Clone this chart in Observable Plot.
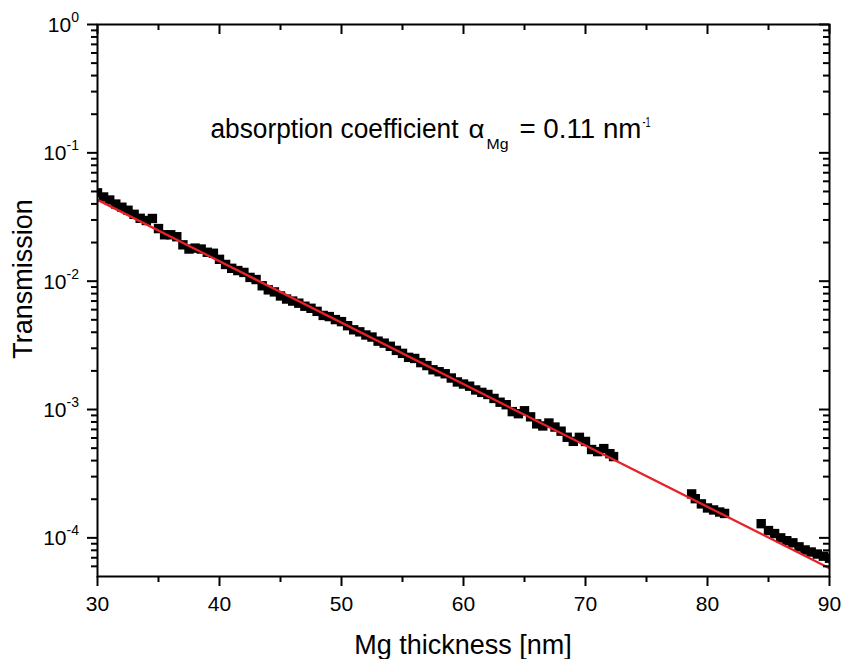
<!DOCTYPE html>
<html><head><meta charset="utf-8">
<script src="https://cdn.jsdelivr.net/npm/d3@7"></script>
<script src="https://cdn.jsdelivr.net/npm/@observablehq/plot@0.6"></script>
<style>body{margin:0;background:#fff} svg{display:block}</style>
</head><body><div id="chart"></div>
<script>
const thickness = [30,30.5,31,31.5,32,32.5,33,33.5,34,34.5,35,35.5,36,36.5,37,37.5,38,38.5,39,39.5,
  40,40.5,41,41.5,42,42.5,43,43.5,44,44.5,45,45.5,46,46.5,47,47.5,48,48.5,49,49.5,
  50,50.5,51,51.5,52,52.5,53,53.5,54,54.5,55,55.5,56,56.5,57,57.5,58,58.5,59,59.5,
  60,60.5,61,61.5,62,62.5,63,63.5,64,64.5,65,65.5,66,66.5,67,67.5,68,68.5,69,69.5,
  70,70.5,71,71.5,72,72.3,
  78.7,79,79.5,80,80.5,81,81.4,
  84.4,85,85.5,86,86.5,87,87.5,88,88.5,89,89.5,90];
const transmission = [0.0488,0.0453,0.0429,0.0399,0.0377,0.0357,0.0332,0.0309,0.0297,0.0308,
  0.0257,0.0230,0.0230,0.0222,0.0192,0.0178,0.0181,0.0178,0.0168,0.0165,
  0.0148,0.0135,0.0126,0.0121,0.0117,0.0107,0.0103,0.00921,0.00856,0.00825,
  0.00767,0.00726,0.00700,0.00674,0.00638,0.00615,0.00582,0.00541,0.00530,0.00502,
  0.00484,0.00450,0.00418,0.00403,0.00381,0.00367,0.00341,0.00329,0.00311,0.00289,
  0.00274,0.00255,0.00250,0.00232,0.00220,0.00204,0.00197,0.00190,0.00176,0.00164,
  0.00158,0.00152,0.00142,0.00136,0.00131,0.00122,0.00114,0.00109,0.000963,0.000928,
  0.000978,0.000877,0.000773,0.000745,0.000785,0.000730,0.000678,0.000608,0.000565,0.000607,
  0.000564,0.000488,0.000470,0.000496,0.000453,0.000430,
  0.000220,0.000202,0.000184,0.000171,0.000165,0.000159,0.000155,
  0.000129,0.000114,0.000108,0.000100,0.0000950,0.0000915,0.0000851,0.0000805,0.0000776,0.0000748,0.0000720,0.0000694];
const fitThickness = [30, 90];
const fitTransmission = [0.043, 5.8e-5];
const xMajorTicks = [30,40,50,60,70,80,90];
const xMinorTicks = [35,45,55,65,75,85];
const yMajorTicks = [1,0.1,0.01,0.001,0.0001];
const yMajorExponents = ["0","-1","-2","-3","-4"];
const yMinorTicks = [6e-5,7e-5,8e-5,9e-5,
  2e-4,3e-4,4e-4,5e-4,6e-4,7e-4,8e-4,9e-4,
  2e-3,3e-3,4e-3,5e-3,6e-3,7e-3,8e-3,9e-3,
  2e-2,3e-2,4e-2,5e-2,6e-2,7e-2,8e-2,9e-2,
  0.2,0.3,0.4,0.5,0.6,0.7,0.8,0.9];
const xTitle = "Mg thickness [nm]";
const yTitle = "Transmission";
const notePre = "absorption coefficient";
const noteSymbol = "α";
const noteSub = "Mg";
const notePost = "= 0.11 nm";
const noteSup = "-1";

const W = 843, H = 659, mL = 97, mR = 14, mT = 24, mB = 83;
const frameW = W - mL - mR, frameH = H - mT - mB;
const FONT = "'Liberation Sans', Arial, sans-serif";
const points = thickness.map((x, i) => ({x, y: transmission[i]}));
const fit = fitThickness.map((x, i) => ({x, y: fitTransmission[i]}));

const plot = Plot.plot({
  width: W, height: H,
  marginLeft: mL, marginRight: mR, marginTop: mT, marginBottom: mB,
  style: {fontFamily: FONT, background: "white", color: "black", overflow: "visible"},
  x: {domain: [30, 90], axis: null},
  y: {type: "log", domain: [5e-5, 1], axis: null},
  marks: [
    Plot.dot(points, {x: "x", y: "y", symbol: "square", r: 5.3, fill: "black", stroke: "none", clip: true}),
    Plot.line(fit, {x: "x", y: "y", stroke: "#e8202a", strokeWidth: 2.3, clip: true}),
    Plot.axisX({anchor: "bottom", ticks: xMajorTicks, tickSize: 10, tickPadding: 10, strokeWidth: 2, fontSize: 21, tickFormat: d => String(d), label: null}),
    Plot.axisX({anchor: "bottom", ticks: xMinorTicks, tickSize: 6, strokeWidth: 2, tickFormat: () => "", label: null}),
    Plot.axisY({anchor: "left", ticks: yMajorTicks, tickSize: 10, strokeWidth: 2, tickFormat: () => "", label: null}),
    Plot.axisY({anchor: "left", ticks: yMinorTicks, tickSize: 6, strokeWidth: 2, tickFormat: () => "", label: null}),
    Plot.ruleX(xMajorTicks, {x: d => d, insetBottom: frameH - 10, strokeWidth: 2}),
    Plot.ruleX(xMinorTicks, {x: d => d, insetBottom: frameH - 6, strokeWidth: 2}),
    Plot.ruleY(yMajorTicks, {y: d => d, insetLeft: frameW - 10, strokeWidth: 2}),
    Plot.ruleY(yMinorTicks, {y: d => d, insetLeft: frameW - 6, strokeWidth: 2}),
    Plot.frame({stroke: "black", strokeWidth: 2})
  ]
});

const svg = d3.select(plot);
const ys = plot.scale("y"), xs = plot.scale("x");
yMajorTicks.forEach((v, i) => {
  const t = svg.append("text")
    .attr("x", mL - 18).attr("y", ys.apply(v) + 8)
    .attr("text-anchor", "end").attr("font-size", 21).attr("fill", "black")
    .attr("font-family", FONT);
  t.append("tspan").text("10");
  t.append("tspan").attr("dy", -10).attr("font-size", 14).text(yMajorExponents[i]);
});

svg.append("text")
  .attr("transform", `translate(31.5,279) rotate(-90)`)
  .attr("text-anchor", "middle").attr("font-size", 27).attr("fill", "black")
  .attr("font-family", FONT).text(yTitle);

svg.append("text")
  .attr("x", mL + frameW / 2).attr("y", 654)
  .attr("text-anchor", "middle").attr("font-size", 27).attr("fill", "black")
  .attr("font-family", FONT).text(xTitle);

const nx = xs.apply(39.3), ny = 138;
const g = svg.append("g").attr("font-family", FONT).attr("fill", "black").attr("text-anchor", "start");
const piece = (txt, dx, dy, size, len) => g.append("text")
  .attr("x", nx + dx).attr("y", ny + dy).attr("font-size", size)
  .attr("textLength", len).attr("lengthAdjust", "spacingAndGlyphs").text(txt);
piece(notePre, 0, 0, 27, 248);
piece(noteSymbol, 258, 0, 26, 16);
piece(noteSub, 276, 11, 14, 22);
piece(notePost, 309, 0, 27, 122);
piece(noteSup, 432, -11, 14, 8);

document.getElementById("chart").appendChild(plot);
</script>
</body></html>
